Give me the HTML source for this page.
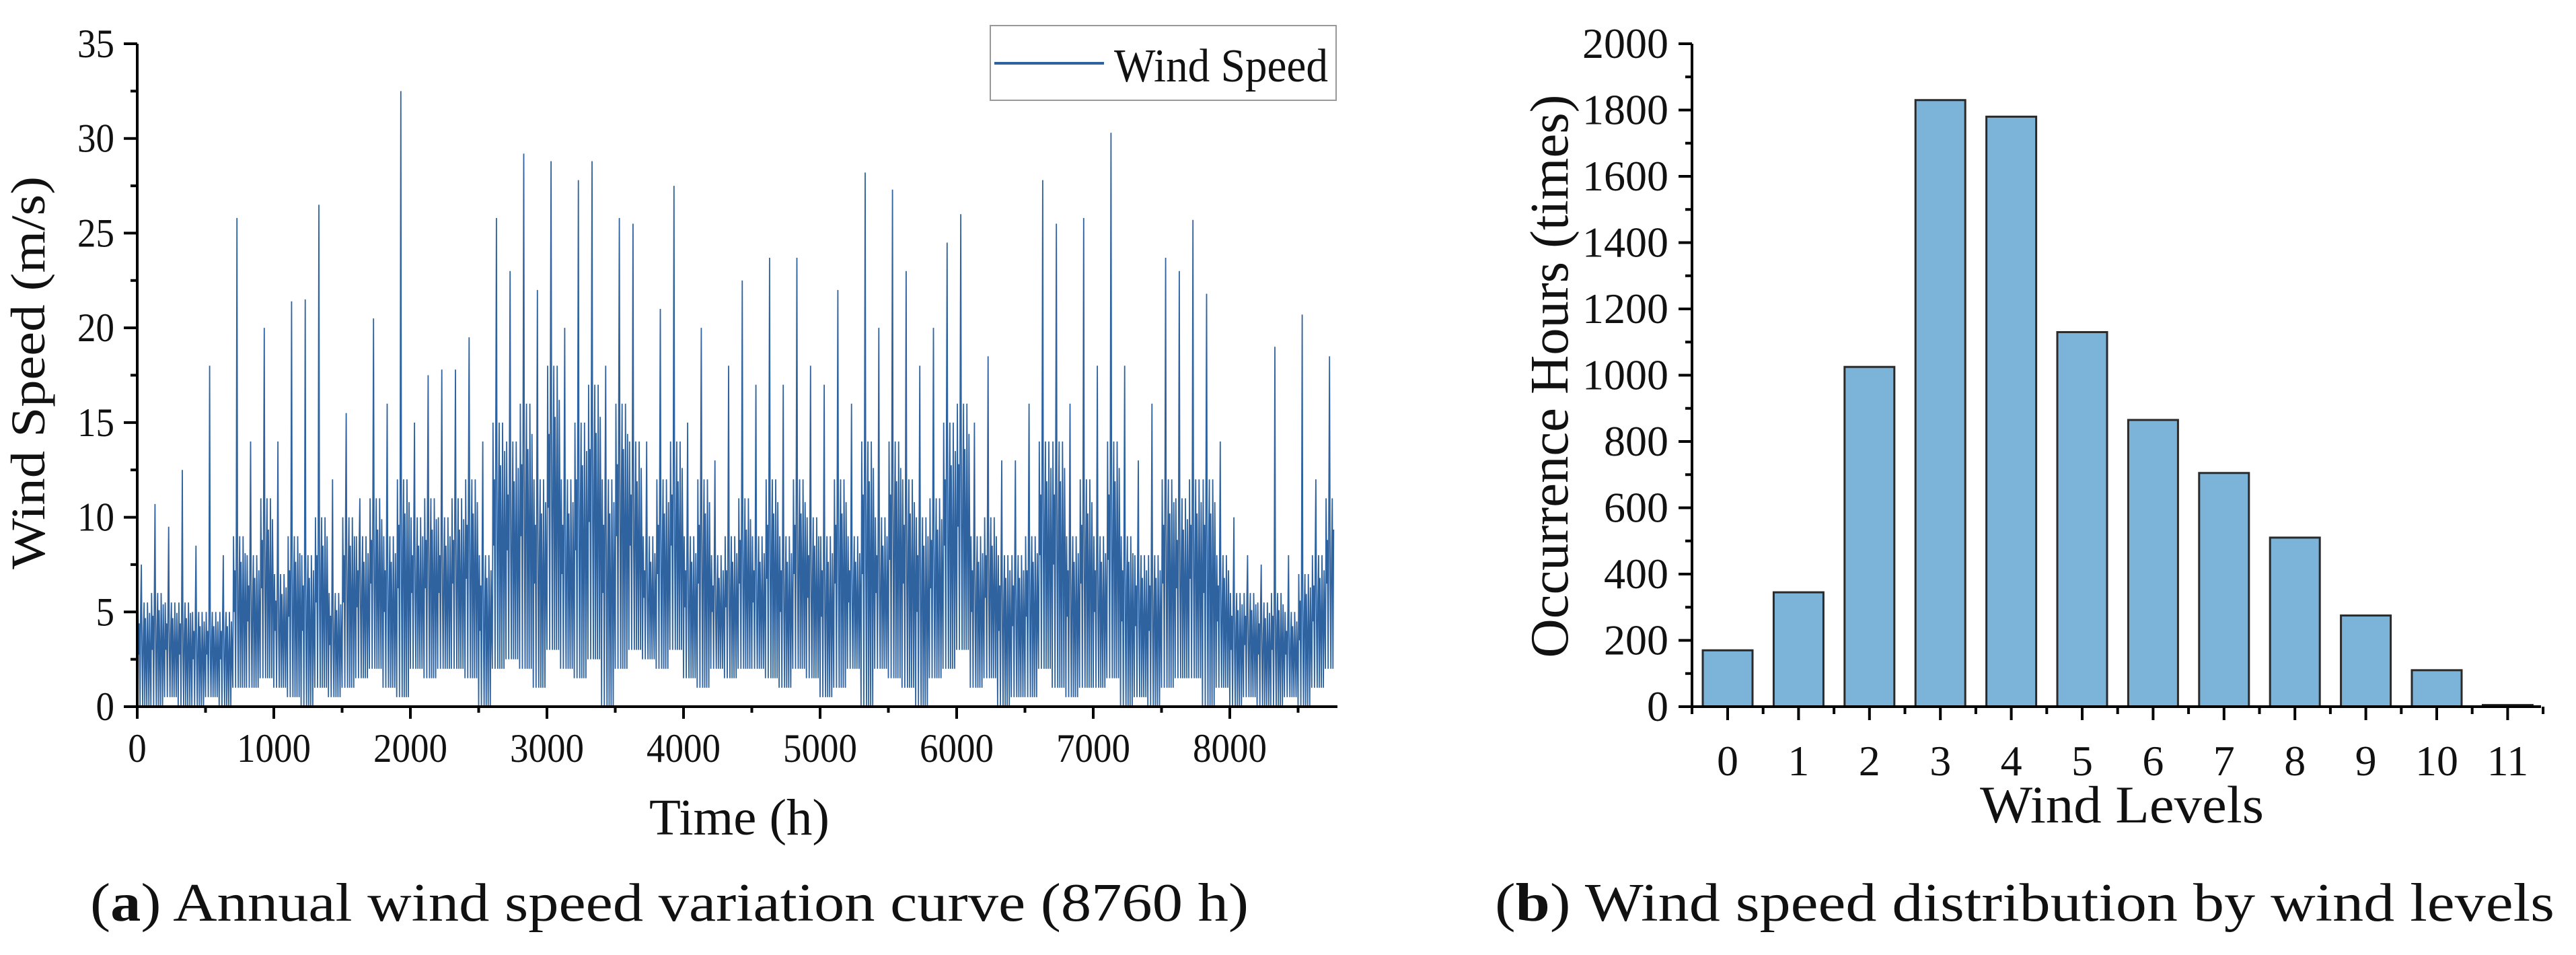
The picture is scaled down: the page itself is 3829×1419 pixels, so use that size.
<!DOCTYPE html>
<html><head><meta charset="utf-8"><style>
html,body{margin:0;padding:0;background:#fff;}
svg{display:block;}
text{font-family:"Liberation Serif",serif;fill:#111;}
</style></head><body>
<svg id="root" width="3829" height="1419" viewBox="0 0 3829 1419">
<g id="chartA"></g>
<g id="chartB"></g>
<text x="134" y="1368" font-size="80" textLength="1722" lengthAdjust="spacingAndGlyphs">(<tspan font-weight="bold">a</tspan>) Annual wind speed variation curve (8760 h)</text>
<text x="2222" y="1368" font-size="80" textLength="1575" lengthAdjust="spacingAndGlyphs">(<tspan font-weight="bold">b</tspan>) Wind speed distribution by wind levels</text>
</svg>
<script>
// ---- Chart A data (100 h bins) ----
const binHours = [0,100,200,300,400,500,600,700,800,900,1000,1100,1200,1300,1400,1500,1600,1700,1800,1900,2000,2100,2200,2300,2400,2500,2600,2700,2800,2900,3000,3100,3200,3300,3400,3500,3600,3700,3800,3900,4000,4100,4200,4300,4400,4500,4600,4700,4800,4900,5000,5100,5200,5300,5400,5500,5600,5700,5800,5900,6000,6100,6200,6300,6400,6500,6600,6700,6800,6900,7000,7100,7200,7300,7400,7500,7600,7700,7800,7900,8000,8100,8200,8300,8400,8500,8600,8700];
const peakSpeed = [7.5,10.7,9.5,12.5,8.5,18,8,25.8,14,20,14,21.4,21.5,26.5,12,15.5,11,20.5,16,32.5,15,17.5,17.8,17.8,19.5,14,25.8,23,29.2,22,28.8,20,27.8,28.8,18,25.8,25.5,14,21,27.5,15,20,13,18,22.5,17,23.7,17,23.7,18,17,22,16,28.2,20,27.3,23,18,20,24.5,26,15,18.5,13,13,16,27.8,25.5,16,25.8,18,30.3,18,13,16,23.7,23,25.7,21.8,14,10,8,7.5,19,8,20.7,12,18.5];
const midSpeed = [5.5,6,5.5,5.5,5,5,5,9,8,11,7,9,8,10,6,10,9,11,9,12,10,11,10,11,12,8,15,14,16,12,18,12,15,17,12,16,14,9,12,14,9,12,8,9,11,9,12,9,12,10,9,12,9,14,10,14,12,10,11,15,16,9,10,8,8,9,14,14,9,12,9,14,9,8,8,12,11,12,12,8,6,6,5.5,6,5,7,8,11];
const lowSpeed = [0,0,0.5,0,0,0.5,0,1,1,1.5,1,0.5,0,1,0.5,1,1.5,2,1,0.5,2,1.5,2,2,1.5,0,2,2.5,2,1,3,2,1.5,2.5,0,2,3,2.5,2,3,1.5,1,2,1.5,2,2,1.5,1,2,1.5,0.5,1,2,0,2,1.5,1,0,1.5,2,3,1,1.5,0,0.5,0.5,2,1,0.5,1,1,1.5,0,0.5,0,1,1.5,1.5,0,1,0,0.5,0,0,0.5,0,1,2];
const xTicksA = [0,1000,2000,3000,4000,5000,6000,7000,8000];
const yTicksA = [0,5,10,15,20,25,30,35];
// ---- Chart B data ----
const levels = ['0','1','2','3','4','5','6','7','8','9','10','11'];
const hours = [170,345,1025,1830,1780,1130,865,705,510,275,110,5];
const yTicksB = [0,200,400,600,800,1000,1200,1400,1600,1800,2000];

const NS='http://www.w3.org/2000/svg';
function mk(tag,attrs,parent){const e=document.createElementNS(NS,tag);for(const k in attrs)e.setAttribute(k,attrs[k]);parent.appendChild(e);return e;}

// ---- Chart A ----
(function(){
  const g=document.getElementById('chartA');
  const X0=204, Y0=1050, pxPerH=203/1000, pxPerV=(1050-65)/35, XEND=1988;
  const xs=h=>X0+h*pxPerH, ys=v=>Y0-v*pxPerV;
  let pts=[];
  for(let i=0;i<binHours.length;i++){
    const t=binHours[i], lo=lowSpeed[i], mi=midSpeed[i], pk=peakSpeed[i], md=(lowSpeed[i]+midSpeed[i])/2;
    const seq=[lo,mi,md,mi*0.8,lo,mi*0.95,pk,md,lo,mi*0.7,mi,lo,mi*0.85,md,lo,mi,mi*0.6,lo,mi*0.9,md];
    for(let j=0;j<seq.length;j++){const h=t+j*5; if(h>8760)break; pts.push(xs(h).toFixed(1)+','+ys(seq[j]).toFixed(1));}
  }
  const line=mk('polyline',{points:pts.join(' '),fill:'none',stroke:'#2f63a0','stroke-width':1.8,'stroke-linejoin':'miter'},g);
  
  
  const ax=mk('path',{d:`M${X0},65 V${Y0} H${XEND}`,fill:'none',stroke:'#000','stroke-width':4},g);
  
  
  let td='';
  for(let v=0;v<=35;v+=2.5){const len=(v%5===0)?20:10;td+=`M${X0-len},${ys(v)} H${X0}`;}
  for(let h=0;h<=8500;h+=500){const len=(h%1000===0)?18:9;td+=`M${xs(h)},${Y0} V${Y0+len}`;}
  mk('path',{d:td,stroke:'#000','stroke-width':4,fill:'none'},g);
  yTicksA.forEach(v=>{
    const s=String(v);
    const t=mk('text',{x:170,y:ys(v)+20,'font-size':60,'text-anchor':'end',textLength:s.length*27.5,lengthAdjust:'spacingAndGlyphs'},g);
    t.textContent=s;
    
    
  });
  xTicksA.forEach(h=>{
    const s=String(h);
    const t=mk('text',{x:xs(h),y:1132,'font-size':60,'text-anchor':'middle',textLength:s.length*27.5,lengthAdjust:'spacingAndGlyphs'},g);
    t.textContent=s;
    
    
  });
  const xt=mk('text',{x:965,y:1240,'font-size':76,textLength:268,lengthAdjust:'spacingAndGlyphs'},g);
  xt.textContent='Time (h)';
  
  
  const yt=mk('text',{x:0,y:0,'font-size':72,'text-anchor':'middle',textLength:584,lengthAdjust:'spacingAndGlyphs',transform:'translate(66,554) rotate(-90)'},g);
  yt.textContent='Wind Speed (m/s)';
  
  
  const lg=mk('g',{},g);
  
  
  mk('rect',{x:1472,y:38,width:514,height:111,fill:'#fff',stroke:'#999','stroke-width':2},lg);
  mk('line',{x1:1478,y1:94,x2:1641,y2:94,stroke:'#2f63a0','stroke-width':4},lg);
  const lt=mk('text',{x:1656,y:121,'font-size':70,textLength:318,lengthAdjust:'spacingAndGlyphs'},lg);
  lt.textContent='Wind Speed';
  
  
})();

// ---- Chart B ----
(function(){
  const g=document.getElementById('chartB');
  const X0=2515, Y0=1050, XEND=3777, C0=2568, step=105.4, bw=74, pxPer=(1050-65)/2000;
  const xs=i=>C0+i*step, ys=v=>Y0-v*pxPer;
  hours.forEach((v,i)=>{
    const r=mk('rect',{x:xs(i)-bw/2,y:ys(v),width:bw,height:Y0-ys(v),fill:'#7bb3d9',stroke:'#2a2a2a','stroke-width':3},g);
    
    
  });
  const ax=mk('path',{d:`M${X0},65 V${Y0} H${XEND}`,fill:'none',stroke:'#000','stroke-width':4},g);
  
  
  let td='';
  for(let v=0;v<=2000;v+=100){const len=(v%200===0)?20:10;td+=`M${X0-len},${ys(v)} H${X0}`;}
  for(let i=0;i<levels.length;i++){td+=`M${xs(i)},${Y0} V${Y0+20}`;td+=`M${xs(i)+step/2},${Y0} V${Y0+11}`;}
  td+=`M${X0},${Y0} V${Y0+11}`;
  mk('path',{d:td,stroke:'#000','stroke-width':4,fill:'none'},g);
  yTicksB.forEach(v=>{
    const t=mk('text',{x:2480,y:ys(v)+21,'font-size':64,'text-anchor':'end'},g);
    t.textContent=String(v);
    
    
  });
  levels.forEach((s,i)=>{
    const t=mk('text',{x:xs(i),y:1152,'font-size':64,'text-anchor':'middle'},g);
    t.textContent=s;
    
    
  });
  const xt=mk('text',{x:2943,y:1222,'font-size':78,textLength:422,lengthAdjust:'spacingAndGlyphs'},g);
  xt.textContent='Wind Levels';
  
  
  const yt=mk('text',{x:0,y:0,'font-size':80,'text-anchor':'middle',textLength:837,lengthAdjust:'spacingAndGlyphs',transform:'translate(2330,559) rotate(-90)'},g);
  yt.textContent='Occurrence Hours (times)';
  
  
})();
</script>
</body></html>
